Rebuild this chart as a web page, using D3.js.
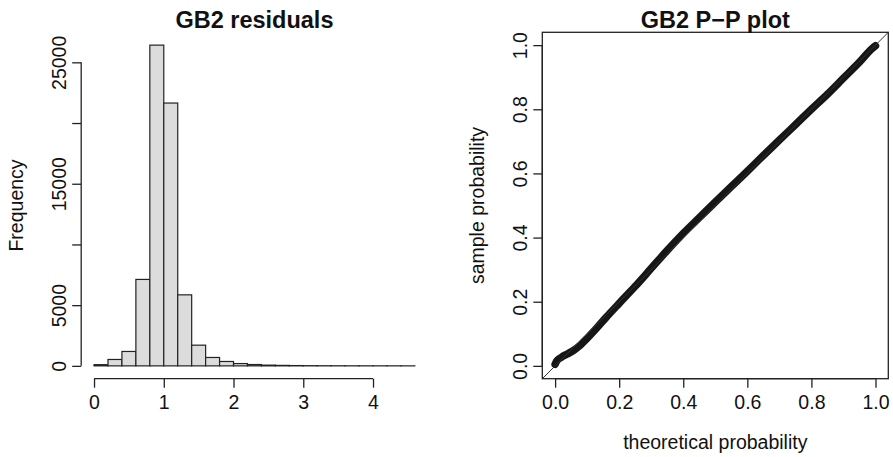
<!DOCTYPE html>
<html>
<head>
<meta charset="utf-8">
<script src="https://cdn.jsdelivr.net/npm/d3@7"></script>
<style>
  body { margin: 0; background: #fff; }
  svg { display: block; }
  text { font-family: "Liberation Sans", Arial, sans-serif; fill: #111; }
</style>
</head>
<body>
<div id="chart"></div>
<script>
// histogram of residuals, bins of width 0.2 from 0 to 4.6
var histBreaks = [0, 0.2, 0.4, 0.6, 0.8, 1.0, 1.2, 1.4, 1.6, 1.8, 2.0, 2.2, 2.4,
                  2.6, 2.8, 3.0, 3.2, 3.4, 3.6, 3.8, 4.0, 4.2, 4.4, 4.6];
var histCounts = [100, 527, 1186, 7120, 26416, 21646, 5850, 1705, 692, 362, 190, 110,
                  60, 40, 25, 15, 10, 8, 5, 4, 3, 2, 1];
var histXTicks = [0, 1, 2, 3, 4];
var histYTicks = [0, 5000, 10000, 15000, 20000, 25000];
var histYLabels = ["0", "5000", "", "15000", "", "25000"];

// P-P plot
var ppTheoretical = [0, 0.005, 0.02, 0.04, 0.06, 0.08, 0.10, 0.13, 0.16, 0.20, 0.25, 0.30,
                     0.35, 0.40, 0.45, 0.50, 0.55, 0.60, 0.65, 0.70, 0.75, 0.80, 0.85,
                     0.90, 0.95, 0.99, 1.0];
var ppSample = [0.005, 0.015, 0.027, 0.038, 0.05, 0.066, 0.086, 0.118, 0.152, 0.195, 0.248, 0.304,
                0.36, 0.413, 0.462, 0.511, 0.559, 0.607, 0.656, 0.704, 0.752, 0.80, 0.847,
                0.897, 0.947, 0.99, 0.998];
var ppTicks = [0, 0.2, 0.4, 0.6, 0.8, 1.0];

var W = 893, H = 457;
var svg = d3.select("#chart").append("svg")
    .attr("width", W)
    .attr("height", H);

var top_ = 32.3, bottom = 378.7;
var left1 = { l: 81.2, r: 427.7 };
var right1 = { l: 542.3, r: 888.3 };
var fs = 19.5;

function ext(lo, hi) {
    var d = (hi - lo) * 0.04;
    return [lo - d, hi + d];
}

function styleAxis(g) {
    g.attr("font-family", null).attr("font-size", null);
    g.selectAll(".tick line").attr("stroke", "#222").attr("stroke-width", 1.3);
    g.selectAll(".tick text").style("font-size", fs + "px").attr("fill", "#111");
}

function yAxisRot(g, scale, ticks, labels, x0) {
    g.attr("transform", "translate(" + x0 + ",0)")
        .call(d3.axisLeft(scale).tickValues(ticks).tickSize(9)
            .tickFormat(function (d, i) { return labels[i]; }));
    styleAxis(g);
    g.select(".domain").remove();
    g.selectAll(".tick text")
        .attr("transform", "rotate(-90)")
        .attr("x", 0).attr("y", -15.5).attr("dy", 0)
        .attr("text-anchor", "middle");
    g.append("line")
        .attr("y1", scale(ticks[0])).attr("y2", scale(ticks[ticks.length - 1]))
        .attr("stroke", "#222").attr("stroke-width", 1.3);
}

function xAxis(g, scale, ticks, labels) {
    g.attr("transform", "translate(0," + bottom + ")")
        .call(d3.axisBottom(scale).tickValues(ticks).tickSize(9)
            .tickFormat(function (d, i) { return labels[i]; }));
    styleAxis(g);
    g.select(".domain").remove();
    g.selectAll(".tick text").attr("y", 30.8).attr("dy", 0);
    g.append("line")
        .attr("x1", scale(ticks[0])).attr("x2", scale(ticks[ticks.length - 1]))
        .attr("stroke", "#222").attr("stroke-width", 1.3);
}

// ---------- left: histogram ----------
var hx = d3.scaleLinear()
    .domain(ext(histBreaks[0], histBreaks[histBreaks.length - 1]))
    .range([left1.l, left1.r]);
var hy = d3.scaleLinear()
    .domain(ext(0, d3.max(histCounts)))
    .range([bottom, top_]);

svg.append("g").selectAll("rect")
    .data(histCounts)
    .enter().append("rect")
    .attr("x", function (d, i) { return hx(histBreaks[i]); })
    .attr("width", function (d, i) { return hx(histBreaks[i + 1]) - hx(histBreaks[i]); })
    .attr("y", function (d) { return hy(d); })
    .attr("height", function (d) { return hy(0) - hy(d); })
    .attr("fill", "#dcdcdc")
    .attr("stroke", "#222")
    .attr("stroke-width", 1.2);

xAxis(svg.append("g"), hx, histXTicks, histXTicks.map(String));
yAxisRot(svg.append("g"), hy, histYTicks, histYLabels, left1.l);

svg.append("text")
    .attr("x", (left1.l + left1.r) / 2).attr("y", 27.5)
    .attr("text-anchor", "middle")
    .style("font-size", "23.5px").style("font-weight", "bold")
    .text("GB2 residuals");

svg.append("text")
    .attr("transform", "translate(" + (left1.l - 58) + "," + (top_ + bottom) / 2 + ") rotate(-90)")
    .attr("text-anchor", "middle")
    .style("font-size", fs + "px")
    .text("Frequency");

// ---------- right: P-P plot ----------
var px = d3.scaleLinear().domain(ext(0, 1)).range([right1.l, right1.r]);
var py = d3.scaleLinear().domain(ext(0, 1)).range([bottom, top_]);

svg.append("clipPath").attr("id", "ppclip")
    .append("rect")
    .attr("x", right1.l).attr("y", top_)
    .attr("width", right1.r - right1.l).attr("height", bottom - top_);

var pts = ppTheoretical.map(function (t, i) { return [t, ppSample[i]]; });

var line = d3.line()
    .x(function (d) { return px(d[0]); })
    .y(function (d) { return py(d[1]); })
    .curve(d3.curveMonotoneX);

svg.append("path")
    .datum(pts)
    .attr("d", line)
    .attr("fill", "none")
    .attr("stroke", "#161616")
    .attr("stroke-width", 7.5)
    .attr("stroke-linecap", "round")
    .attr("stroke-linejoin", "round");

// reference diagonal
svg.append("line")
    .attr("clip-path", "url(#ppclip)")
    .attr("x1", px(px.domain()[0])).attr("y1", py(py.domain()[0]))
    .attr("x2", px(px.domain()[1])).attr("y2", py(py.domain()[1]))
    .attr("stroke", "#333").attr("stroke-width", 1);

var ppLabels = ppTicks.map(d3.format(".1f"));
xAxis(svg.append("g"), px, ppTicks, ppLabels);
yAxisRot(svg.append("g"), py, ppTicks, ppLabels, right1.l);

svg.append("rect")
    .attr("x", right1.l).attr("y", top_)
    .attr("width", right1.r - right1.l).attr("height", bottom - top_)
    .attr("fill", "none").attr("stroke", "#222").attr("stroke-width", 1.3);

svg.append("text")
    .attr("x", (right1.l + right1.r) / 2).attr("y", 27.5)
    .attr("text-anchor", "middle")
    .style("font-size", "23.5px").style("font-weight", "bold")
    .text("GB2 P\u2212P plot");

svg.append("text")
    .attr("x", (right1.l + right1.r) / 2).attr("y", 449)
    .attr("text-anchor", "middle")
    .style("font-size", fs + "px")
    .text("theoretical probability");

svg.append("text")
    .attr("transform", "translate(" + (right1.l - 58) + "," + (top_ + bottom) / 2 + ") rotate(-90)")
    .attr("text-anchor", "middle")
    .style("font-size", fs + "px")
    .text("sample probability");
</script>
</body>
</html>
